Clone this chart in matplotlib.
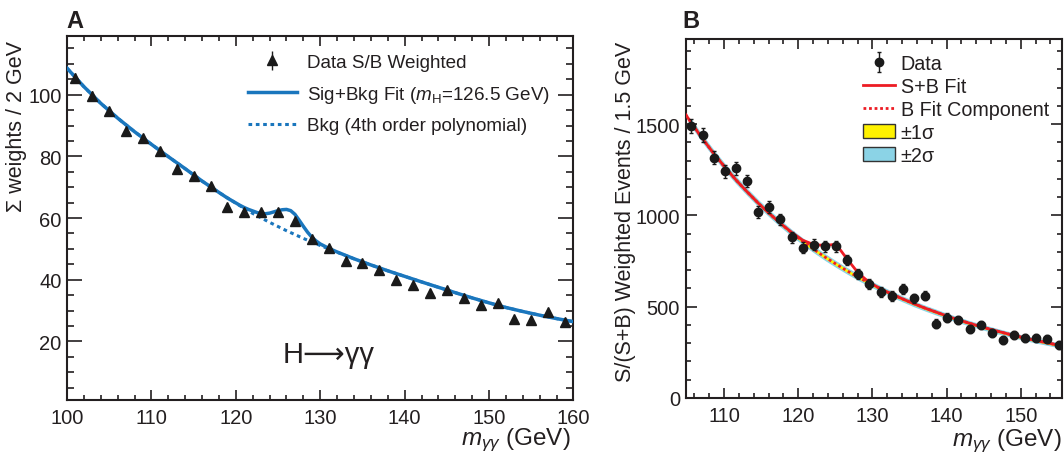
import matplotlib.pyplot as plt
from matplotlib.lines import Line2D
from matplotlib.patches import Patch
from matplotlib.ticker import MultipleLocator

plt.rcParams['font.family'] = ['Liberation Sans', 'DejaVu Sans']
plt.rcParams['mathtext.fontset'] = 'custom'
plt.rcParams['mathtext.rm'] = 'Liberation Sans'
plt.rcParams['mathtext.it'] = 'Liberation Sans:italic'

TEXT = '#231f20'
BLUE = '#1a76bd'
RED = '#ed1c24'
YELLOW = '#fff200'
CYAN = '#8bd3e6'
MARK = '#1a1a1a'

# ---- panel A: S/B weighted diphoton mass, 2 GeV bins
mass_a = [101, 103, 105, 107, 109, 111, 113, 115, 117, 119,
          121, 123, 125, 127, 129, 131, 133, 135, 137, 139,
          141, 143, 145, 147, 149, 151, 153, 155, 157, 159]
weights_a = [105.5, 99.7, 94.7, 88.2, 86.1, 81.6, 76.0, 73.8, 70.4, 63.6,
             61.9, 61.9, 62.0, 58.9, 53.1, 50.4, 46.0, 45.4, 43.0, 40.0,
             38.2, 35.7, 36.8, 34.2, 31.9, 32.4, 27.4, 26.8, 29.4, 26.3]
err_a = [1.4, 1.4, 1.3, 1.3, 1.3, 1.3, 1.2, 1.2, 1.2, 1.2,
         1.2, 1.2, 1.2, 1.2, 1.1, 1.1, 1.1, 1.1, 1.1, 1.0,
         1.0, 1.0, 1.0, 1.0, 1.0, 1.0, 0.9, 0.9, 0.9, 0.9]

bkg_x_a = [100, 102, 104, 106, 108, 110, 112, 114, 116, 118,
           120, 122, 124, 126, 128, 130, 132, 134, 136, 138,
           140, 142, 144, 146, 148, 150, 152, 154, 156, 158, 160]
bkg_a = [108.6, 102.6, 97.2, 92.4, 88.0, 83.9, 79.9, 76.0, 72.0, 68.3,
         64.8, 61.5, 58.6, 55.9, 53.4, 51.1, 48.9, 46.8, 44.8, 42.9,
         41.1, 39.3, 37.55, 35.8, 34.1, 32.5, 31.0, 29.7, 28.5, 27.4, 26.4]

sb_x_a = [100, 102, 104, 106, 108, 110, 112, 114, 116,
          118, 118.5, 119, 119.5, 120, 120.5, 121, 121.5, 122, 122.5,
          123, 123.5, 124, 124.5, 125, 125.5, 126, 126.5, 127, 127.5,
          128, 128.5, 129, 129.5, 130, 130.5, 131, 131.5, 132,
          134, 136, 138, 140, 142, 144, 146, 148, 150, 152, 154, 156, 158, 160]
sb_a = [108.6, 102.6, 97.2, 92.4, 88.0, 83.9, 79.9, 76.0, 72.0,
        68.3, 67.4, 66.5, 65.7, 64.9, 64.1, 63.4, 62.8, 62.3, 61.8,
        61.5, 61.4, 61.6, 62.0, 62.4, 62.7, 62.8, 62.4, 61.2, 59.3,
        57.3, 55.4, 53.8, 52.6, 51.6, 50.9, 50.2, 49.6, 49.0,
        46.8, 44.8, 42.9, 41.1, 39.3, 37.55, 35.8, 34.1, 32.5, 31.0, 29.7, 28.5, 27.4, 26.4]

# ---- panel B: S/(S+B) weighted events, 1.5 GeV bins
mass_b = [105.6, 107.1, 108.6, 110.1, 111.6, 113.1, 114.6, 116.1, 117.6, 119.1,
          120.6, 122.1, 123.6, 125.1, 126.6, 128.1, 129.6, 131.1, 132.6, 134.1,
          135.6, 137.1, 138.6, 140.1, 141.6, 143.1, 144.6, 146.1, 147.6, 149.1,
          150.6, 152.1, 153.6, 155.1]
events_b = [1487, 1441, 1316, 1241, 1257, 1188, 1020, 1044, 978, 880,
            823, 839, 830, 832, 755, 679, 624, 579, 558, 598,
            546, 560, 407, 440, 427, 378, 401, 356, 318, 347,
            328, 330, 325, 290]
err_b = [38, 37, 36, 36, 35, 35, 33, 33, 32, 31,
         30, 30, 30, 30, 29, 28, 27, 27, 27, 26,
         26, 26, 24, 24, 24, 23, 23, 22, 22, 22,
         22, 22, 22, 21]

fit_x_b = [104.8] + mass_b + [155.5]
bkg_b = [1553, 1505, 1419, 1339, 1264, 1194, 1129, 1067, 1010, 956, 905,
         858, 814, 772, 733, 696, 661, 629, 598, 569, 542,
         516, 492, 470, 448, 428, 409, 391, 374, 358, 342,
         328, 314, 302, 289, 286]
sb_b = [1553, 1505, 1419, 1339, 1264, 1194, 1129, 1067, 1010, 956, 907,
        864, 840, 835, 842, 760, 684, 632, 598, 569, 542,
        516, 492, 470, 448, 428, 409, 391, 374, 358, 342,
        328, 314, 302, 289, 286]
band1_b = [10, 10, 10, 10, 10, 9.5, 9.5, 9.5, 9, 9,
           9, 9, 9, 9, 8.5, 8.5, 8.5, 8.5, 8, 8,
           8, 8, 8, 7.5, 7.5, 7.5, 7.5, 7, 7, 7,
           7, 7, 7, 7]
band2_b = [22, 22, 21.5, 21, 21, 20.5, 20, 20, 19.5, 19,
           19, 19, 19, 18.5, 18, 18, 17.5, 17, 17, 16.5,
           16.5, 16, 16, 15.5, 15.5, 15, 15, 15, 14.5, 14.5,
           14, 14, 14, 14]


def style_axes(ax, ymaj_len, xmaj_len):
    for sp in ax.spines.values():
        sp.set_linewidth(1.5)
        sp.set_color(TEXT)
    ax.tick_params(which='both', direction='in', top=True, right=True,
                   colors=TEXT, width=1.2, labelsize=14.5, labelcolor=TEXT)
    ax.tick_params(axis='y', which='major', length=ymaj_len, pad=4)
    ax.tick_params(axis='y', which='minor', length=ymaj_len / 2)
    ax.tick_params(axis='x', which='major', length=xmaj_len, pad=6)
    ax.tick_params(axis='x', which='minor', length=xmaj_len / 2)


fig = plt.figure(figsize=(10.64, 4.56), dpi=100)

# ---------------- panel A
ax = fig.add_axes([0.063, 0.1206, 0.476, 0.798])
ax.plot(bkg_x_a, bkg_a, color=BLUE, lw=2.2, ls=(0, (1.2, 1.2)), zorder=2)
ax.plot(sb_x_a, sb_a, color=BLUE, lw=2.5, zorder=3)
data_a = ax.errorbar(mass_a, weights_a, yerr=err_a, fmt='^', color=MARK,
                     ms=7, elinewidth=1.0, capsize=0, zorder=4)
ax.set_xlim(100, 160)
ax.set_ylim(1, 119)
ax.xaxis.set_major_locator(MultipleLocator(10))
ax.xaxis.set_minor_locator(MultipleLocator(2))
ax.yaxis.set_minor_locator(MultipleLocator(5))
ax.set_yticks([20, 40, 60, 80, 100])
style_axes(ax, 10.5, 7.2)
ax.set_ylabel('Σ weights / 2 GeV', fontsize=15.5, color=TEXT, loc='top')
ax.yaxis.set_label_coords(-0.079, 0.99)
ax.set_xlabel(r'$m_{\gamma\gamma}$ (GeV)', fontsize=17.5, color=TEXT, loc='right')
ax.xaxis.set_label_coords(0.995, -0.07)
ax.text(0.426, 0.126, 'H⟶γγ', transform=ax.transAxes, fontsize=21,
        color=TEXT, va='center', ha='left')

handles_a = [data_a,
             Line2D([], [], color=BLUE, lw=2.5),
             Line2D([], [], color=BLUE, lw=2.2, ls=(0, (1.2, 1.2)))]
labels_a = ['Data S/B Weighted',
            r'Sig+Bkg Fit ($m_{\rm H}$=126.5 GeV)',
            'Bkg (4th order polynomial)']
leg = ax.legend(handles_a, labels_a, loc='upper left', bbox_to_anchor=(0.323, 0.998),
                frameon=False, fontsize=13.6, handlelength=2.6, handletextpad=0.55,
                labelspacing=0.66)
for t in leg.get_texts():
    t.set_color(TEXT)

# ---------------- panel B
bx = fig.add_axes([0.6443, 0.125, 0.3534, 0.787])
lo2 = [b - w for b, w in zip(bkg_b[1:-1], band2_b)]
hi2 = [b + w for b, w in zip(bkg_b[1:-1], band2_b)]
lo1 = [b - w for b, w in zip(bkg_b[1:-1], band1_b)]
hi1 = [b + w for b, w in zip(bkg_b[1:-1], band1_b)]
bx.fill_between(mass_b, lo2, hi2, color=CYAN, lw=0, zorder=1)
bx.fill_between(mass_b, lo1, hi1, color=YELLOW, lw=0, zorder=1.5)
bx.plot(fit_x_b, bkg_b, color=RED, lw=2.0, ls=(0, (1, 1)), zorder=2)
bx.plot(fit_x_b, sb_b, color=RED, lw=2.0, zorder=3)
data_b = bx.errorbar(mass_b, events_b, yerr=err_b, fmt='o', color=MARK,
                     ms=6, elinewidth=1.0, capsize=1.5, capthick=1.0, zorder=4)
bx.set_xlim(104.8, 155.5)
bx.set_ylim(0, 1965)
bx.xaxis.set_major_locator(MultipleLocator(10))
bx.xaxis.set_minor_locator(MultipleLocator(2))
bx.yaxis.set_major_locator(MultipleLocator(500))
bx.yaxis.set_minor_locator(MultipleLocator(100))
style_axes(bx, 7.8, 7.2)
bx.set_ylabel('S/(S+B) Weighted Events / 1.5 GeV', fontsize=15.5, color=TEXT, loc='top')
bx.yaxis.set_label_coords(-0.131, 0.996)
bx.set_xlabel(r'$m_{\gamma\gamma}$ (GeV)', fontsize=17.5, color=TEXT, loc='right')
bx.xaxis.set_label_coords(1.0, -0.08)

handles_b = [data_b,
             Line2D([], [], color=RED, lw=2.0),
             Line2D([], [], color=RED, lw=2.0, ls=(0, (1, 1))),
             Patch(facecolor=YELLOW, edgecolor='#333333', lw=1.0),
             Patch(facecolor=CYAN, edgecolor='#333333', lw=1.0)]
labels_b = ['Data', 'S+B Fit', 'B Fit Component', '±1σ', '±2σ']
leg_b = bx.legend(handles_b, labels_b, loc='upper left', bbox_to_anchor=(0.425, 1.008),
                  frameon=False, fontsize=14.2, handlelength=1.6, handletextpad=0.3,
                  labelspacing=0.2, handleheight=0.75)
for t in leg_b.get_texts():
    t.set_color(TEXT)

fig.text(66 / 1064, 1 - 10 / 456, 'A', fontsize=17, fontweight='bold', color=TEXT,
         va='top', ha='left')
fig.text(682 / 1064, 1 - 10 / 456, 'B', fontsize=17, fontweight='bold', color=TEXT,
         va='top', ha='left')

fig.savefig('out.png', dpi=100)
